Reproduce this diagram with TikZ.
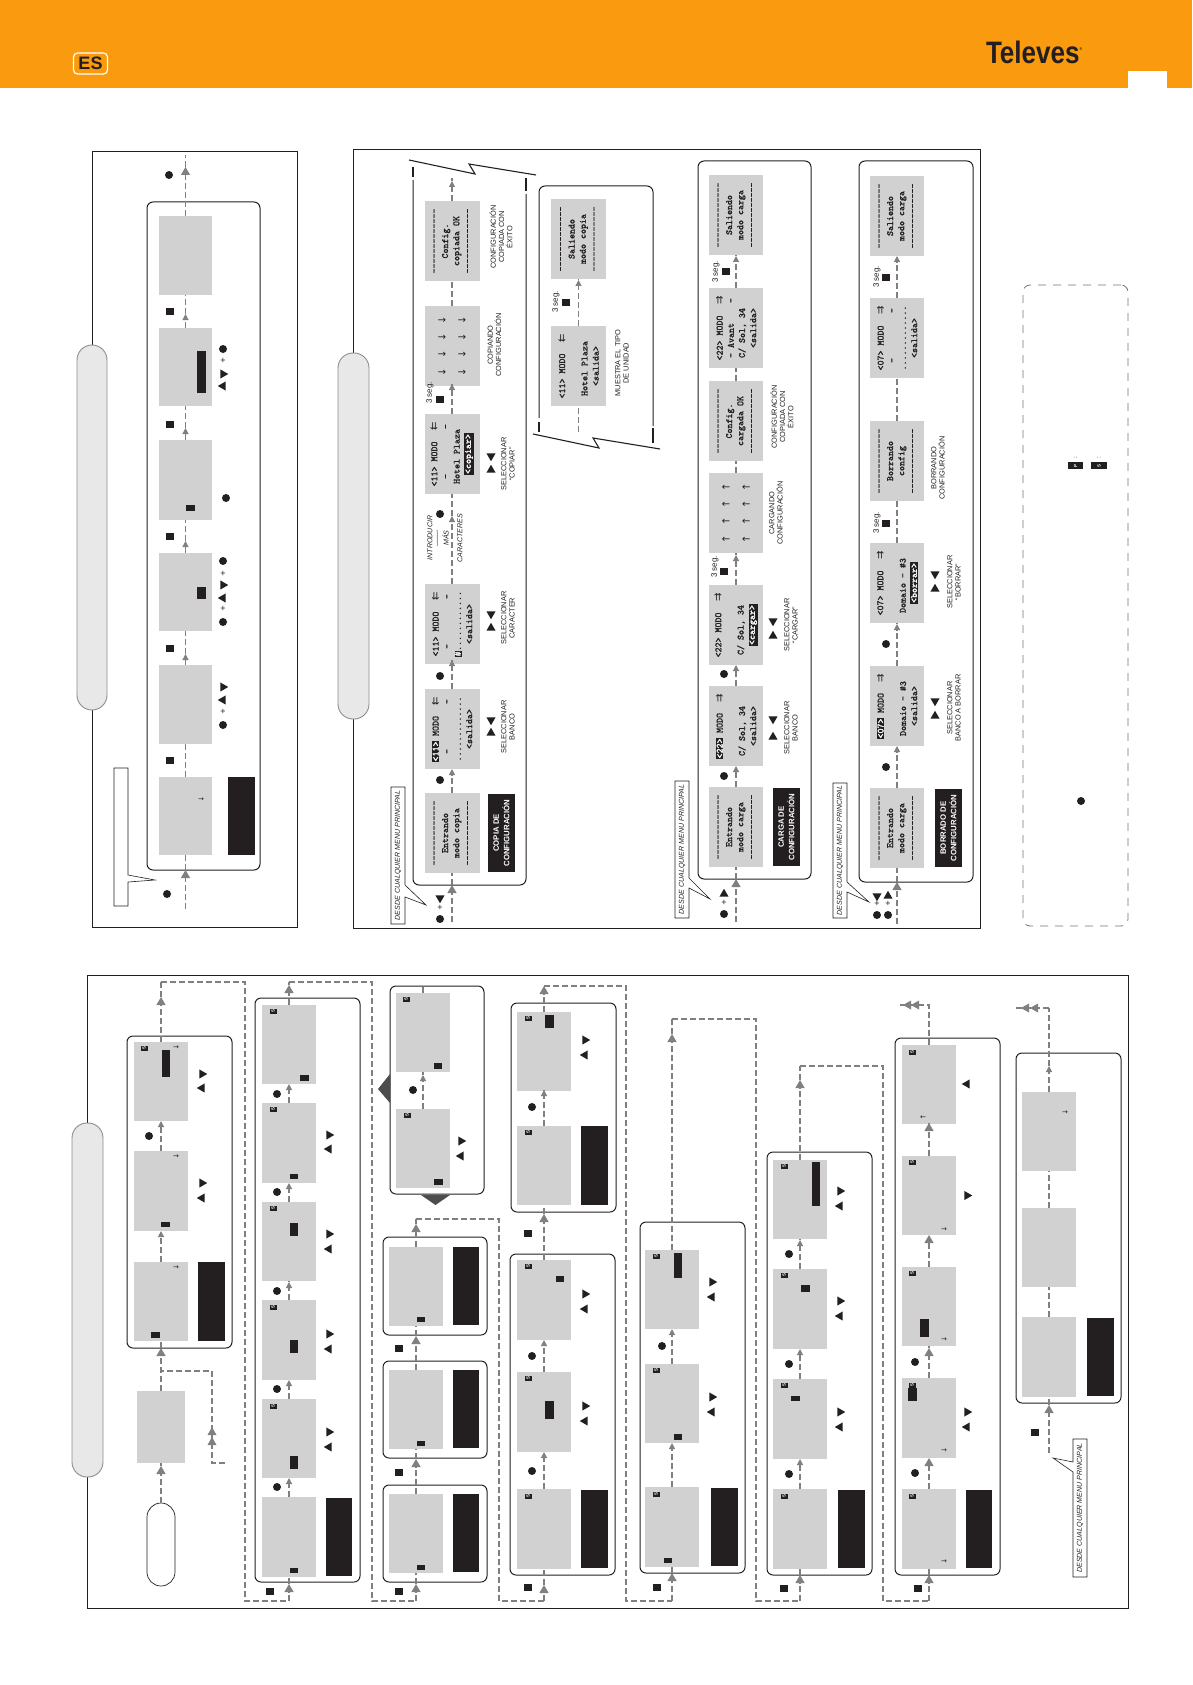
\documentclass[tikz,border=0pt]{standalone}
\usepackage{fontspec}
\setsansfont{Liberation Sans}
\newfontfamily\djv{DejaVu Sans}
\newfontfamily\lcdf[FakeBold=1.4]{Latin Modern Mono}
\usetikzlibrary{arrows.meta,shapes.geometric}
\definecolor{ink}{HTML}{231F20}
\definecolor{lcd}{HTML}{D1D1D1}
\definecolor{orng}{HTML}{FA9A0F}
\definecolor{flowc}{HTML}{808080}
\definecolor{pillc}{HTML}{E8E8E8}
\definecolor{bigc}{HTML}{4D4D4D}
\newcounter{nn}
\tikzset{
  smtip/.tip={Triangle[length=6pt,width=6pt]},
  bigtip/.tip={Triangle[length=8pt,width=9pt]},
  flow/.style={draw=flowc,fill=none,line width=1.2pt,dash pattern=on 6pt off 3pt},
  plain/.style={inner sep=0pt,outer sep=0pt},
  frame/.style={plain,draw=ink,line width=.9pt},
  gbox/.style={plain,draw=ink,line width=1pt,rounded corners=6pt},
  pill/.style={plain,draw=black!45,fill=pillc,line width=.9pt,rounded corners=15pt},
  startp/.style={plain,draw=ink,fill=white,line width=.7pt,rounded corners=14pt},
  blk/.style={plain,fill=ink},
  screen/.style={plain,fill=lcd,rotate=90,align=center,text=ink,font=\lcdf\fontsize{9.5}{11.2}\selectfont},
  panel/.style={plain,fill=ink,rotate=90,align=center,text=white,font=\sffamily\bfseries\fontsize{7.8}{10.5}\selectfont},
  dotn/.style={plain,circle,fill=ink,minimum size=8pt},
  btn/.style={plain,fill=ink,minimum width=8pt,minimum height=7pt},
  tria/.style={plain,regular polygon,regular polygon sides=3,fill=ink,minimum size=10.5pt},
  plusn/.style={plain,font=\sffamily\fontsize{9}{9}\selectfont,text=ink},
  lab/.style={plain,rotate=90,align=center,text=ink,font=\sffamily\fontsize{7.4}{8.2}\selectfont},
  seg/.style={plain,rotate=90,text=ink,font=\sffamily\fontsize{8}{8}\selectfont},
  ital/.style={plain,rotate=90,text=ink,font=\sffamily\itshape\fontsize{7.1}{8}\selectfont},
  badge/.style={plain,fill=ink,text=white,rotate=90,minimum width=5pt,minimum height=7pt,font=\sffamily\bfseries\fontsize{4.5}{4.5}\selectfont},
  sarr/.style={plain,text=ink,font=\djv\fontsize{7}{7}\selectfont},
  callout/.style={draw=ink,fill=white,line width=.6pt},
}
\newcommand\scr[6]{\node[screen,minimum width={(#5-#4)*1pt},minimum height={(#3-#2)*1pt}] (#1) at ({(#2+#3)/2},{(#4+#5)/2}) {#6};}
\newcommand\pan[6]{\node[panel,minimum width={(#5-#4)*1pt},minimum height={(#3-#2)*1pt}] (#1) at ({(#2+#3)/2},{(#4+#5)/2}) {#6};}
\newcommand\rnode[6]{\node[#2,minimum width={(#4-#3)*1pt},minimum height={(#6-#5)*1pt}] (#1) at ({(#3+#4)/2},{(#5+#6)/2}) {};}
\newcommand\bk[4]{\stepcounter{nn}\rnode{b\arabic{nn}}{blk}{#1}{#2}{#3}{#4}}
\newcommand\dt[2]{\stepcounter{nn}\node[dotn] (d\arabic{nn}) at (#1,#2) {};}
\newcommand\bt[2]{\stepcounter{nn}\node[btn] (u\arabic{nn}) at (#1,#2) {};}
\newcommand\pl[2]{\stepcounter{nn}\node[plusn] (p\arabic{nn}) at (#1,#2) {+};}
\newcommand\tU[2]{\stepcounter{nn}\node[tria,shape border rotate=0] (t\arabic{nn}) at (#1,#2) {};}
\newcommand\tD[2]{\stepcounter{nn}\node[tria,shape border rotate=180] (t\arabic{nn}) at (#1,#2) {};}
\newcommand\tL[2]{\stepcounter{nn}\node[tria,shape border rotate=90] (t\arabic{nn}) at (#1,#2) {};}
\newcommand\tR[2]{\stepcounter{nn}\node[tria,shape border rotate=270] (t\arabic{nn}) at (#1,#2) {};}
\newcommand\bdg[2]{\stepcounter{nn}\node[badge] (g\arabic{nn}) at (#1,#2) {S};}
\newcommand\sa[3]{\stepcounter{nn}\node[sarr] (s\arabic{nn}) at (#1,#2) {#3};}
\newcommand\seglab[2]{\stepcounter{nn}\node[seg] (l\arabic{nn}) at (#1,#2) {3 seg.};}
\newcommand\lb[3]{\stepcounter{nn}\node[lab] (l\arabic{nn}) at (#1,#2) {#3};}
\newcommand\link[4]{\coordinate (k) at (#3,{#4-3}); \draw[flow,-{smtip}] (#1) -- (k); \draw[flow] (k) -- (#2);}
\newcommand\linkb[4]{\coordinate (k) at (#3,{#4-4}); \draw[flow,-{bigtip}] (#1) -- (k); \draw[flow] (k) -- (#2);}
\newcommand\tipL[2]{\fill[flowc] (#1-4,#2) -- (#1+4,#2-4.5) -- (#1+4,#2+4.5) -- cycle;}
\newcommand\tipU[2]{\fill[flowc] (#1,#2-4) -- (#1-4.5,#2+4) -- (#1+4.5,#2+4) -- cycle;}
\newcommand\hlt[1]{{\setlength{\fboxsep}{0.6pt}\colorbox{ink}{\textcolor{white}{#1}}}}
\newcommand\mar[1]{\makebox[10pt]{\djv\fontsize{10}{10}\selectfont #1}}
\newcommand\dsh{-------------}
\newcommand\ard{{\djv\fontsize{10}{10}\selectfont ↓}}
\newcommand\aru{{\djv\fontsize{10}{10}\selectfont ↑}}
\newcommand\rowd{\ard\hspace{9pt}\ard\hspace{9pt}\ard\hspace{9pt}\ard}
\newcommand\rowu{\aru\hspace{9pt}\aru\hspace{9pt}\aru\hspace{9pt}\aru}
\begin{document}
\begin{tikzpicture}[x=1pt,y=-1pt]
\useasboundingbox (0,0) rectangle (1192,1685);
% ---------- header
\rnode{hdr}{plain,fill=orng}{0}{1192}{0}{88}
\rnode{pg}{plain,fill=white}{1128}{1167}{71}{88}
\node[plain,draw=white,line width=1.2pt,rounded corners=4pt,minimum width=34pt,minimum height=21pt,font=\sffamily\bfseries\fontsize{18}{18}\selectfont,text=ink] (es) at (90.5,63.5) {ES};
\node[plain,font=\sffamily\bfseries\fontsize{31}{31}\selectfont,text=ink,xscale=.84,anchor=west] (tv) at (986,52) {Televes\raisebox{13pt}{\fontsize{4}{4}\selectfont ®}};
% ---------- frame A (top left)
\rnode{fa}{frame}{92}{297}{151}{927}
\rnode{pa}{pill}{77}{107}{345}{710}
\draw[callout] (114,768) -- (128,768) -- (128,875) -- (155,880) -- (128,882) -- (128,906) -- (114,906) -- cycle;
\rnode{ga}{gbox}{147}{260}{202}{870}
\scr{a1}{159}{212}{216}{295}{}
\scr{a2}{159}{212}{328}{406}{}
\scr{a3}{159}{212}{440}{520}{}
\scr{a4}{159}{212}{553}{631}{}
\scr{a5}{159}{212}{665}{744}{}
\scr{a6}{159}{212}{777}{855}{}
\pan{apan}{228}{255}{777}{855}{}
\coordinate (ain) at (185.5,909);
\coordinate (aout) at (185.5,155);
\linkb{ain}{a6}{185.5}{874}
\draw[flow] (a6) -- (a5);
\link{a5}{a4}{185.5}{657}
\link{a4}{a3}{185.5}{544}
\link{a3}{a2}{185.5}{431}
\link{a2}{a1}{185.5}{317}
\linkb{a1}{aout}{185.5}{171}
\dt{169}{175}\dt{167}{894}
\bt{170}{312}\bt{170}{424}\bt{170}{536}\bt{170}{648}\bt{170}{760}
\bk{197}{206}{351}{393}\bk{186}{195}{505}{511}\bk{197}{206}{587}{599}
\sa{201}{800}{→}
\dt{223}{349}\pl{223}{361}\tR{223}{374}\tL{223}{386}
\dt{226}{498}
\dt{223}{561}\pl{223}{574}\tR{223}{585}\tL{223}{598}\pl{223}{609}\dt{223}{622}
\tR{223}{687}\tL{223}{700}\pl{223}{712}\dt{223}{725}
% ---------- frame B (top right)
\rnode{fb}{frame}{353}{980}{149}{928}
\rnode{pb}{pill}{338}{369}{353}{719}
% row 1 copy
\draw[callout] (391,787) -- (405,787) -- (405,885) -- (426,905) -- (405,897) -- (405,924) -- (391,924) -- cycle;
\node[ital] (ca1) at (398,855.5) {DESDE CUALQUIER MENU PRINCIPAL};
\draw[line width=1pt,draw=ink,rounded corners=6pt] (413,180) -- (413,885) -- (526,885) -- (526,194);
\draw[line width=1.6pt,draw=ink] (413,167) -- (413,177) (526,178) -- (526,191);
\draw[line width=1.1pt,draw=ink] (409,160) -- (475,174) -- (469,164) -- (536,175);
\scr{b1}{424.5}{479.5}{201}{281}{\dsh\\Config.\\copiada OK\\\dsh}
\scr{b2}{424.5}{479.5}{306}{386}{\rowd\\[9pt]\rowd}
\scr{b3}{424.5}{479.5}{414}{494}{<11>~MODO~~\mar{⇇}\\~-~~~~~~~~~-~\\Hotel~Plaza~~\\\hlt{<copiar>}}
\scr{b4}{424.5}{479.5}{584}{664}{<11>~MODO~~\mar{⇇}\\~-~~~~~~~~~-~\\\hlt{\#}............\\<salida>}
\scr{b5}{424.5}{479.5}{689}{769}{\hlt{<11>}~MODO~~\mar{⇇}\\~-~~~~~~~~~-~\\.............\\<salida>}
\scr{b6}{424.5}{479.5}{793}{873}{\dsh\\Entrando\\modo copia\\\dsh}
\pan{bp1}{488}{515}{794}{872}{COPIA DE\\CONFIGURACIÓN}
\coordinate (bin) at (452,922);
\coordinate (bout) at (452,178);
\linkb{bin}{b6}{452}{889}
\link{b6}{b5}{452}{772}
\link{b5}{b4}{452}{663}
\link{b4}{b3}{452}{519}
\link{b3}{b2}{452}{387}
\draw[flow] (b2) -- (b1);
\link{b1}{bout}{452}{184}
\dt{440}{919}\pl{440}{908}\tD{440}{898}
\dt{440}{780}\dt{440}{676}\dt{440}{514}
\bt{440}{399}\seglab{430}{393}
\tU{491}{733}\tD{491}{720}\tU{491}{628}\tD{491}{614}\tU{491}{470}\tD{491}{456}
\lb{508}{727}{SELECCIONAR\\BANCO}
\lb{508}{618}{SELECCIONAR\\CARACTER}
\lb{508}{464}{SELECCIONAR\\“COPIAR”}
\lb{494.5}{345}{COPIANDO\\CONFIGURACIÓN}
\lb{501}{237}{CONFIGURACIÓN\\COPIADA CON\\ÉXITO}
\node[ital] (in1) at (430,538) {INTRODUCIR};
\node[ital] (in2) at (438,538) {-------};
\node[ital] (in3) at (445.5,538) {MÁS};
\node[ital] (in4) at (460,538) {CARACTERES};
% row 2 exit
\draw[line width=1pt,draw=ink,rounded corners=6pt] (539,418) -- (539,186) -- (653,186) -- (653,426);
\draw[line width=1.6pt,draw=ink] (539,422) -- (539,432) (653,428) -- (653,443);
\draw[line width=1.1pt,draw=ink] (533,434) -- (599,448) -- (593,438) -- (660,449);
\scr{e1}{551}{606}{199}{279}{\dsh\\Saliendo\\modo copia\\\dsh}
\scr{e2}{551}{606}{326}{406}{<11>~MODO~~\mar{⇇}\\~\\Hotel~Plaza~~\\<salida>}
\coordinate (ein) at (578.5,432);
\draw[flow] (ein) -- (e2);
\link{e2}{e1}{578.5}{283}
\bt{566}{303}\seglab{556}{302}
\lb{622}{363}{MUESTRA EL TIPO\\DE UNIDAD}
% row 3 load
\draw[callout] (675,781) -- (689,781) -- (689,878) -- (710,899) -- (689,888) -- (689,918) -- (675,918) -- cycle;
\node[ital] (ca2) at (682,849.5) {DESDE CUALQUIER MENU PRINCIPAL};
\rnode{gc}{gbox}{698}{811}{161}{879}
\scr{c1}{709}{763}{175}{255}{\dsh\\Saliendo\\modo carga\\\dsh}
\scr{c2}{709}{763}{288}{368}{<22>~MODO~~\mar{⇉}\\-~Avant~~~~-~\\C/~Sol,~34~~~\\<salida>}
\scr{c3}{709}{763}{381}{461}{\dsh\\Config.\\cargada OK\\\dsh}
\scr{c4}{709}{763}{473}{553}{\rowu\\[9pt]\rowu}
\scr{c5}{709}{763}{585}{665}{<22>~MODO~~\mar{⇉}\\~\\C/~Sol,~34~~~\\\hlt{<cargar>}}
\scr{c6}{709}{763}{686}{766}{\hlt{<22>}~MODO~~\mar{⇉}\\~\\C/~Sol,~34~~~\\<salida>}
\scr{c7}{709}{763}{787}{867}{\dsh\\Entrando\\modo carga\\\dsh}
\pan{cp1}{773}{800}{788}{866}{CARGA DE\\CONFIGURACIÓN}
\coordinate (cin) at (736,922);
\linkb{cin}{c7}{736}{883}
\link{c7}{c6}{736}{769}
\link{c6}{c5}{736}{668}
\link{c5}{c4}{736}{558}
\draw[flow] (c4) -- (c3);
\draw[flow] (c3) -- (c2);
\link{c2}{c1}{736}{259}
\dt{724}{914}\pl{724}{903}\tU{724}{894}
\dt{724}{776}\dt{724}{674}
\bt{724}{571}\seglab{715}{567}
\bt{726}{272}\seglab{716}{272}
\tU{773}{737}\tD{773}{719}\tU{773}{636}\tD{773}{621}
\lb{791}{728}{SELECCIONAR\\BANCO}
\lb{791}{625}{SELECCIONAR\\“CARGAR”}
\lb{776}{513}{CARGANDO\\CONFIGURACIÓN}
\lb{782}{417}{CONFIGURACIÓN\\COPIADA CON\\ÉXITO}
% row 4 erase
\draw[callout] (833,783) -- (847,783) -- (847,882) -- (869,902) -- (847,892) -- (847,918) -- (833,918) -- cycle;
\node[ital] (ca3) at (840,850.5) {DESDE CUALQUIER MENU PRINCIPAL};
\rnode{gd}{gbox}{859}{973}{161}{882}
\scr{f1}{870}{924}{176}{256}{\dsh\\Saliendo\\modo carga\\\dsh}
\scr{f2}{870}{924}{298}{378}{<07>~MODO~~\mar{⇉}\\~-~~~~~~~~~-~\\.............\\<salida>}
\scr{f3}{870}{924}{421}{501}{\dsh\\Borrando\\config\\\dsh}
\scr{f4}{870}{924}{543}{623}{<07>~MODO~~\mar{⇉}\\~\\Domaio~-~\#3~~\\\hlt{<borrar>}}
\scr{f5}{870}{924}{666}{746}{\hlt{<07>}~MODO~~\mar{⇉}\\~\\Domaio~-~\#3~~\\<salida>}
\scr{f6}{870}{924}{788}{868}{\dsh\\Entrando\\modo carga\\\dsh}
\pan{fp1}{935}{962}{789}{867}{BORRADO DE\\CONFIGURACIÓN}
\coordinate (fin) at (897,924);
\linkb{fin}{f6}{897}{886}
\link{f6}{f5}{897}{749}
\link{f5}{f4}{897}{627}
\draw[flow] (f4) -- (f3);
\draw[flow] (f3) -- (f2);
\link{f2}{f1}{897}{259}
\dt{877}{915}\dt{888}{915}\pl{877}{904}\pl{888}{904}\tD{877}{896}\tU{888}{896}
\dt{886}{767}\dt{886}{644}
\bt{886}{523}\seglab{877}{523}
\bt{886}{278}\seglab{877}{277}
\tU{935}{716}\tD{935}{701}\tU{935}{589}\tD{935}{574}
\lb{954}{708}{SELECCIONAR\\BANCO A BORRAR}
\lb{954}{582}{SELECCIONAR\\“BORRAR”}
\lb{938}{468}{BORRANDO\\CONFIGURACIÓN}
% legend
\rnode{leg}{plain,draw=black!55,line width=.8pt,dash pattern=on 8pt off 7pt,rounded corners=7pt}{1023}{1128}{285}{926}
\node[badge,minimum width=7pt,minimum height=15pt] (lp) at (1075.5,465.5) {P};
\node[badge,minimum width=7pt,minimum height=16pt] (ls) at (1099,465.5) {S};
\node[plain,rotate=90,font=\sffamily\fontsize{6}{6}\selectfont,text=ink] (lc1) at (1075.5,457.5) {:};
\node[plain,rotate=90,font=\sffamily\fontsize{6}{6}\selectfont,text=ink] (lc2) at (1099,457.5) {:};
\dt{1081}{801}
% ---------- frame C (bottom)
\rnode{fc}{frame}{87}{1128}{975}{1608}
\rnode{pc}{pill}{72}{103}{1123}{1477}
\rnode{st}{startp}{147}{175}{1503}{1586}
\scr{k0}{137}{185}{1391}{1463}{}
\rnode{gk1}{gbox}{127}{232}{1036}{1348}
\scr{k1}{134}{188}{1042}{1121}{}
\scr{k2}{134}{188}{1151}{1231}{}
\scr{k3}{134}{188}{1262}{1341}{}
\pan{kp}{198}{225}{1262}{1341}{}
\coordinate (ktop) at (161,982);
\linkb{st}{k0}{161}{1470}
\linkb{k0}{k3}{161}{1352}
\link{k3}{k2}{161}{1234}
\link{k2}{k1}{161}{1124}
\linkb{k1}{ktop}{161}{1001}
\coordinate (kbr) at (225,1463);
\draw[flow] (kbr) -- (212,1463) -- (212,1371) -- (161,1371);
\tipU{212}{1441}\tipU{212}{1431}
\dt{149}{1136}
\bk{151}{160}{1332}{1338}\bk{161}{170}{1222}{1227}\bk{162}{170}{1050}{1077}
\bdg{144}{1048}
\sa{176}{1048}{→}\sa{176}{1157}{→}\sa{176}{1268}{→}
\tR{202}{1074}\tL{202}{1088}\tR{202}{1183}\tL{202}{1198}
% column 2
\rnode{gm}{gbox}{255}{360}{998}{1582}
\scr{m1}{262}{316}{1005}{1084}{}
\scr{m2}{262}{316}{1103}{1183}{}
\scr{m3}{262}{316}{1202}{1281}{}
\scr{m4}{262}{316}{1300}{1380}{}
\scr{m5}{262}{316}{1399}{1478}{}
\scr{m6}{262}{316}{1497}{1577}{}
\pan{mp}{326}{352}{1498}{1576}{}
\coordinate (min) at (289,1601);
\coordinate (mtop) at (289,982);
\draw[flow] (ktop) -- (245,982) -- (245,1601) -- (min);
\linkb{min}{m6}{289}{1588}
\link{m6}{m5}{289}{1481}
\link{m5}{m4}{289}{1383}
\link{m4}{m3}{289}{1285}
\link{m3}{m2}{289}{1186}
\link{m2}{m1}{289}{1087}
\linkb{m1}{mtop}{289}{989}
\dt{277}{1094}\dt{277}{1192}\dt{277}{1291}\dt{277}{1389}\dt{277}{1487}
\bt{270}{1591}
\tR{329}{1135}\tL{329}{1149}\tR{329}{1234}\tL{329}{1249}\tR{329}{1334}\tL{329}{1349}\tR{329}{1432}\tL{329}{1447}
\bdg{273}{1011}\bdg{273}{1109}\bdg{273}{1208}\bdg{273}{1307}\bdg{273}{1406}
\bk{300}{309}{1075}{1081}\bk{290}{298}{1174}{1179}\bk{290}{298}{1223}{1236}\bk{290}{298}{1340}{1353}\bk{290}{298}{1456}{1469}\bk{290}{298}{1568}{1573}
% column 3 top
\rnode{gn}{gbox}{390}{484}{986}{1194}
\scr{n1}{396}{450}{993}{1072}{}
\scr{n2}{396}{450}{1109}{1188}{}
\coordinate (ntop) at (423,986);
\link{n2}{n1}{423}{1078}
\draw[flow] (n1) -- (ntop);
\dt{413}{1090}
\tR{461}{1141}\tL{461}{1156}
\bdg{406}{999}\bdg{407}{1115}
\bk{434}{442}{1063}{1069}\bk{434}{443}{1179}{1185}
\fill[bigc] (378,1089) -- (390,1074) -- (390,1103) -- cycle;
\fill[bigc] (421,1195) -- (450,1195) -- (435.5,1205) -- cycle;
% column 3 bottom
\rnode{go1}{gbox}{383}{487}{1237}{1335}
\rnode{go2}{gbox}{383}{487}{1361}{1458}
\rnode{go3}{gbox}{383}{487}{1485}{1582}
\scr{o1}{389}{443}{1247}{1326}{}
\scr{o2}{389}{443}{1370}{1449}{}
\scr{o3}{389}{443}{1494}{1573}{}
\pan{op1}{453}{479}{1247}{1325}{}
\pan{op2}{453}{479}{1370}{1448}{}
\pan{op3}{453}{479}{1494}{1572}{}
\coordinate (oin) at (416,1601);
\coordinate (otop) at (416,1219);
\draw[flow] (mtop) -- (372,982) -- (372,1601) -- (oin);
\linkb{oin}{o3}{416}{1588}
\linkb{o3}{o2}{416}{1463}
\linkb{o2}{o1}{416}{1340}
\linkb{o1}{otop}{416}{1228}
\bk{417}{425}{1317}{1322}\bk{417}{425}{1441}{1446}\bk{417}{425}{1565}{1570}
\bt{399}{1348.5}\bt{399}{1472}\bt{399}{1591}
% column 4
\rnode{gp1}{gbox}{511}{616}{1003}{1212}
\rnode{gp2}{gbox}{510}{615}{1254}{1575}
\scr{p1}{517}{571}{1012}{1091}{}
\scr{p2}{517}{571}{1126}{1205}{}
\pan{pp1}{581}{608}{1126}{1205}{}
\scr{p3}{517}{571}{1260}{1340}{}
\scr{p4}{517}{571}{1372}{1452}{}
\scr{p5}{517}{571}{1489}{1569}{}
\pan{pp2}{581}{608}{1490}{1568}{}
\coordinate (pin) at (544,1601);
\coordinate (ptop) at (544,986);
\draw[flow] (otop) -- (499,1219) -- (499,1601) -- (pin);
\linkb{pin}{p5}{544}{1589}
\link{p5}{p4}{544}{1455}
\link{p4}{p3}{544}{1343}
\linkb{p3}{p2}{544}{1218}
\link{p2}{p1}{544}{1093}
\linkb{p1}{ptop}{544}{990}
\bk{545}{554}{1015}{1028}\bk{556}{564}{1276}{1282}\bk{545}{554}{1401}{1419}
\bdg{528}{1018}\bdg{528}{1132}\bdg{528}{1266}\bdg{528}{1378}\bdg{528}{1496}
\tR{585}{1040}\tL{585}{1055}\tR{585}{1294}\tL{585}{1309}\tR{585}{1406}\tL{585}{1421}
\dt{532}{1107}\dt{532}{1356}\dt{532}{1471}
\bt{528}{1233}\bt{528}{1587}
% column 5
\rnode{gq}{gbox}{640}{745}{1222}{1573}
\scr{q1}{645}{699}{1250}{1329}{}
\scr{q2}{645}{699}{1364}{1443}{}
\scr{q3}{645}{699}{1487}{1567}{}
\pan{qp}{711}{738}{1488}{1566}{}
\coordinate (qin) at (672,1601);
\coordinate (qtop) at (672,1019);
\draw[flow] (ptop) -- (626,986) -- (626,1601) -- (qin);
\linkb{qin}{q3}{672}{1577}
\link{q3}{q2}{672}{1446}
\link{q2}{q1}{672}{1332}
\linkb{q1}{qtop}{672}{1038}
\bk{674}{682}{1253}{1278}\bk{674}{682}{1434}{1440}\bk{664}{672}{1558}{1563}
\tR{712}{1282}\tL{712}{1297}\tR{712}{1397}\tL{712}{1412}
\bdg{656}{1256}\bdg{656}{1370}\bdg{656}{1494}
\dt{662}{1346}
\bt{657}{1587}
% column 6
\rnode{gr}{gbox}{767}{872}{1152}{1575}
\scr{r1}{773}{827}{1160}{1239}{}
\scr{r2}{773}{827}{1269}{1349}{}
\scr{r3}{773}{827}{1379}{1459}{}
\scr{r4}{773}{827}{1489}{1569}{}
\pan{rp}{838}{865}{1490}{1568}{}
\coordinate (rin) at (800,1601);
\coordinate (rtop) at (800,1066);
\draw[flow] (qtop) -- (756,1019) -- (756,1601) -- (rin);
\linkb{rin}{r4}{800}{1579}
\link{r4}{r3}{800}{1462}
\link{r3}{r2}{800}{1352}
\link{r2}{r1}{800}{1243}
\linkb{r1}{rtop}{800}{1084}
\bk{812}{820}{1162}{1206}\bk{801}{810}{1285}{1292}\bk{791}{800}{1396}{1401}
\tR{840}{1191}\tL{840}{1206}\tR{840}{1301}\tL{840}{1316}\tR{840}{1412}\tL{840}{1427}
\bdg{784}{1166}\bdg{784}{1275}\bdg{784}{1385}\bdg{784}{1496}
\dt{789}{1254}\dt{789}{1364}\dt{789}{1474}
\bt{784}{1588}
% column 7
\rnode{gs}{gbox}{895}{1000}{1038}{1575}
\scr{s1}{902}{956}{1045}{1124}{}
\scr{s2}{902}{956}{1156}{1235}{}
\scr{s3}{902}{956}{1267}{1346}{}
\scr{s4}{902}{956}{1378}{1458}{}
\scr{s5}{902}{956}{1489}{1569}{}
\pan{sp}{966}{992}{1490}{1568}{}
\coordinate (sin) at (929,1601);
\coordinate (sout) at (897,1005);
\draw[flow] (rtop) -- (883,1066) -- (883,1601) -- (sin);
\linkb{sin}{s5}{929}{1579}
\linkb{s5}{s4}{929}{1462}
\linkb{s4}{s3}{929}{1352}
\linkb{s3}{s2}{929}{1239}
\linkb{s2}{s1}{929}{1127}
\draw[flow] (s1) -- (929,1005) -- (sout);
\tipL{907}{1005}\tipL{915}{1005}
\bk{920}{929}{1319}{1337}\bk{908}{917}{1388}{1401}
\sa{944}{1229.5}{→}\sa{944}{1340}{→}\sa{944}{1451}{→}\sa{944}{1562}{→}\sa{923}{1118}{←}
\tL{967}{1084}\tR{967}{1195.5}\tR{967}{1412}\tL{967}{1427}
\bdg{912}{1052}\bdg{912}{1162}\bdg{912}{1273}\bdg{912}{1385}\bdg{912}{1496}
\dt{915}{1362}\dt{915}{1473}
\bt{918}{1588}
% column 8
\rnode{gt}{gbox}{1016}{1121}{1053}{1403}
\scr{t1}{1022}{1076}{1092}{1171}{}
\scr{t2}{1022}{1076}{1208}{1287}{}
\scr{t3}{1022}{1076}{1317}{1397}{}
\pan{tp}{1087}{1114}{1318}{1396}{}
\coordinate (tin) at (1049,1453);
\coordinate (tup) at (1049,1008);
\coordinate (tout) at (1016,1008);
\linkb{tin}{t3}{1049}{1409}
\draw[flow] (t3) -- (t2);
\draw[flow] (t2) -- (t1);
\link{t1}{tup}{1049}{1069}
\draw[flow] (tup) -- (tout);
\tipL{1025}{1008}\tipL{1034}{1008}
\sa{1065}{1113}{→}
\bt{1035}{1432}
\draw[callout] (1073,1439) -- (1087,1439) -- (1087,1577) -- (1073,1577) -- (1073,1472) -- (1053,1458) -- (1073,1462) -- cycle;
\node[ital] (ca4) at (1080,1508) {DESDE CUALQUIER MENU PRINCIPAL};
\end{tikzpicture}
\end{document}
